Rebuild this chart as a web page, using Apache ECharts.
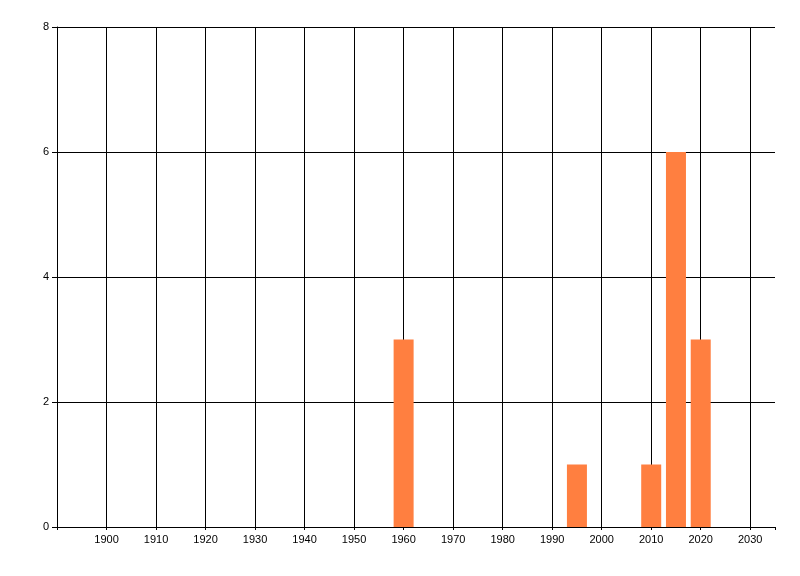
<!DOCTYPE html>
<html><head><meta charset="utf-8">
<script src="https://cdn.jsdelivr.net/npm/echarts@6/dist/echarts.min.js"></script>
<style>html,body{margin:0;padding:0;background:#fff}#c{width:800px;height:576px}</style>
</head><body><div id="c"></div>
<script>
const years = [1960, 1995, 2010, 2015, 2020];
const counts = [3, 1, 1, 6, 3];
const xMin = 1890, xMax = 2035, xStep = 10;
const yMin = 0, yMax = 8, yStep = 2;

const chart = echarts.init(document.getElementById('c'), null, {renderer: 'canvas'});
chart.setOption({
  animation: false,
  backgroundColor: '#ffffff',
  grid: {left: 57, right: 25, top: 27, bottom: 49},
  xAxis: {
    type: 'value', min: xMin, max: xMax, interval: xStep,
    axisLine: {show: true, lineStyle: {color: '#000', width: 1}},
    axisTick: {show: true, length: 3, lineStyle: {color: '#000'}},
    axisLabel: {
      color: '#000', fontFamily: 'Liberation Sans', fontSize: 11, margin: 7,
      formatter: v => (v === xMin || v > 2030) ? '' : String(v)
    },
    splitLine: {show: true, lineStyle: {color: '#000', width: 1}, showMinLine: false, showMaxLine: false}
  },
  yAxis: {
    type: 'value', min: yMin, max: yMax, interval: yStep,
    axisLine: {show: true, lineStyle: {color: '#000', width: 1}},
    axisTick: {show: true, length: 5, lineStyle: {color: '#000'}},
    axisLabel: {color: '#000', fontFamily: 'Liberation Sans', fontSize: 11, margin: 8},
    splitLine: {show: true, lineStyle: {color: '#000', width: 1}}
  },
  series: [{
    type: 'bar',
    data: years.map((y, i) => [y, counts[i]]),
    barWidth: 20,
    itemStyle: {color: '#FF7F40'}
  }]
});
</script></body></html>
